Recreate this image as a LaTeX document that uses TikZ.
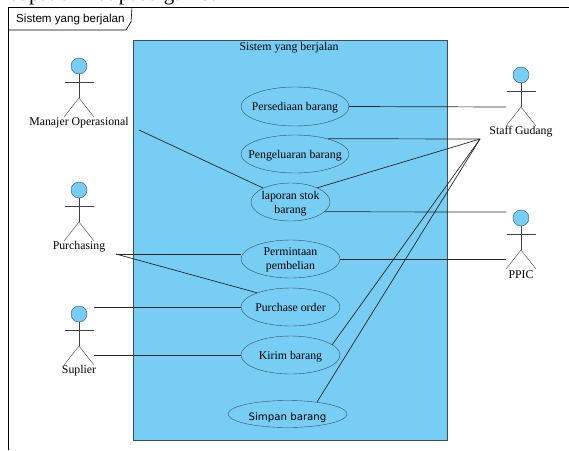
\documentclass[tikz,border=0pt]{standalone}
\usepackage{fontspec}
\setmainfont{Liberation Serif}
\setsansfont{Liberation Sans}
\newfontfamily\simpanfont{DejaVu Sans}
\usetikzlibrary{shapes.geometric}
\definecolor{sysblue}{HTML}{78CDF5}
\definecolor{sysline}{HTML}{3A4F5C}
\tikzset{>=latex,
  usecase/.style={draw=sysline,ellipse,fill=sysblue,inner xsep=-14pt,inner ysep=-4pt,text depth=0pt,align=center,font=\fontsize{11.8}{14}\selectfont},
  head/.style={draw=sysline,circle,fill=sysblue,minimum size=16pt,inner sep=0pt},
  actorline/.style={draw=black!75},
  conn/.style={draw=black!85,line width=0.7pt},
  actorlabel/.style={inner sep=0pt,font=\fontsize{11.8}{14}\selectfont}
}

\begin{document}
\begin{tikzpicture}[x=1pt,y=-1pt]
\useasboundingbox (0,0) rectangle (569,450);
% text above the frame
\node[anchor=base west,inner sep=0pt,font=\fontsize{21}{24}\selectfont] (caption) at (9,0) {dapat dilihat pada gambar 1};
% frame
\draw[line width=0.7pt] (8.5,450) -- (8.5,7) -- (569,7);
\draw[line width=0.6pt] (8.5,30) -- (126,30) -- (131,22) -- (132,7);
\node[anchor=west,inner sep=0pt,font=\sffamily\fontsize{11.6}{14}\selectfont] (tag) at (16,19) {Sistem yang berjalan};
% system box
\draw[draw=sysline,fill=sysblue,line width=0.8pt] (133,40) rectangle (447,440);
\node[inner sep=0pt,font=\fontsize{11.8}{14}\selectfont] (title) at (289,47.5) {Sistem yang berjalan};
% use cases
\node[usecase,minimum width=108pt,minimum height=39pt] (persediaan) at (295,106.5) {Persediaan barang};
\node[usecase,minimum width=108pt,minimum height=38pt] (pengeluaran) at (295,154) {Pengeluaran barang};
\node[usecase,minimum width=79pt,minimum height=38pt] (laporan) at (290.5,202) {laporan stok\\barang};
\node[usecase,minimum width=99pt,minimum height=38pt] (permintaan) at (290.5,259) {Permintaan\\pembelian};
\node[usecase,minimum width=99pt,minimum height=38pt] (purchase) at (290.5,307) {Purchase order};
\node[usecase,minimum width=99pt,minimum height=38pt] (kirim) at (290.5,355) {Kirim barang};
\node[usecase,minimum width=119pt,minimum height=27pt,font=\simpanfont\fontsize{10.2}{12}\selectfont] (simpan) at (287.5,414) {\raisebox{-6.5pt}[0pt][0pt]{Simpan barang}};
% actors
\foreach \name/\x/\y/\txt in {manajer/79/66/Manajer Operasional,purchasing/79/190/Purchasing,suplier/79/314/Suplier,staff/521/75/Staff Gudang,ppic/521/218/PPIC}{
  \node[head] (\name) at (\x,\y) {};
  \draw[actorline] (\name.south) -- (\x,\y+32);
  \draw[actorline] (\x-14.5,\y+16) -- (\x+14.5,\y+16);
  \draw[actorline] (\x-15,\y+51) -- (\x,\y+32) -- (\x+15,\y+51);
  \node[actorlabel] (\name label) at (\x,\y+57) {\txt};
}
% free ends of the connectors
\coordinate (manajerend) at (139,130);
\coordinate (staffright) at (506,107);
\coordinate (staffleft) at (480,139);
\coordinate (ppictop) at (506,212);
\coordinate (ppicbottom) at (506,259);
\coordinate (purchasingend) at (116,254);
\coordinate (supliertop) at (94,307);
\coordinate (suplierbottom) at (94,355);
% connectors
\draw[conn] (manajerend) -- (laporan.153);
\draw[conn] (persediaan.east) -- (staffright);
\draw[conn] (pengeluaran.25) -- (staffleft);
\draw[conn] (laporan.28) -- (staffleft);
\draw[conn] (kirim.14) -- (staffleft);
\draw[conn] (simpan.22) -- (staffleft);
\draw[conn] (laporan.-16) -- (ppictop);
\draw[conn] (permintaan.east) -- (ppicbottom);
\draw[conn] (purchasingend) -- (permintaan.west |- purchasingend);
\draw[conn] (purchasingend) -- (purchase.157);
\draw[conn] (supliertop) -- (purchase.west);
\draw[conn] (suplierbottom) -- (kirim.west);
\end{tikzpicture}
\end{document}
